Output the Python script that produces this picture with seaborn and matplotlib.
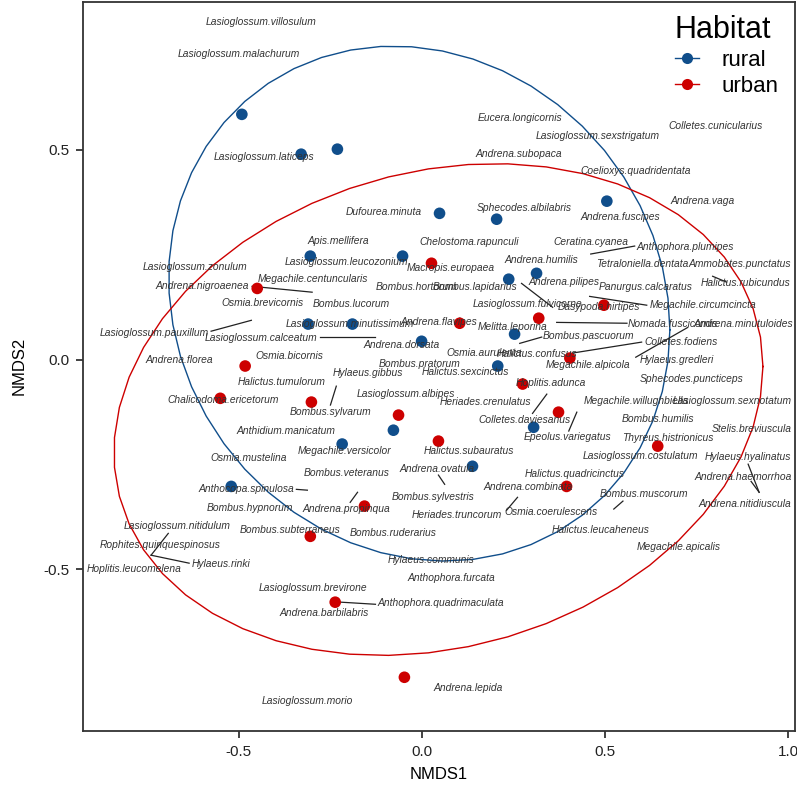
import matplotlib
matplotlib.use("Agg")
import matplotlib.pyplot as plt
from matplotlib.lines import Line2D
import numpy as np
import pandas as pd
import seaborn as sns

# サイトのNMDSスコア
rural_x = [-0.492, -0.330, -0.231, 0.048, 0.204, 0.505, -0.305, -0.053, 0.313, 0.237,
           -0.311, -0.190, -0.001, 0.253, 0.207, 0.305, -0.078, -0.218, 0.138, -0.521]
rural_y = [0.585, 0.490, 0.502, 0.349, 0.335, 0.378, 0.247, 0.247, 0.206, 0.192,
           0.085, 0.085, 0.044, 0.061, -0.015, -0.161, -0.168, -0.201, -0.254, -0.302]
urban_x = [0.026, -0.450, 0.103, 0.319, 0.497, 0.404, -0.483, -0.551, -0.302, -0.064,
           0.045, 0.275, 0.373, 0.644, 0.395, -0.157, -0.305, -0.237, -0.048]
urban_y = [0.230, 0.170, 0.087, 0.099, 0.130, 0.004, -0.015, -0.092, -0.101, -0.132,
           -0.194, -0.058, -0.125, -0.206, -0.302, -0.349, -0.421, -0.578, -0.757]

# 種ラベル（ラベル位置）
species = [
    "Lasioglossum.villosulum", "Lasioglossum.malachurum", "Lasioglossum.laticeps",
    "Eucera.longicornis", "Lasioglossum.sexstrigatum", "Andrena.subopaca",
    "Colletes.cunicularius", "Coelioxys.quadridentata", "Andrena.vaga",
    "Dufourea.minuta", "Sphecodes.albilabris", "Andrena.fuscipes",
    "Apis.mellifera", "Chelostoma.rapunculi", "Ceratina.cyanea",
    "Anthophora.plumipes", "Lasioglossum.zonulum", "Lasioglossum.leucozonium",
    "Macropis.europaea", "Andrena.humilis", "Tetraloniella.dentata",
    "Ammobates.punctatus", "Andrena.nigroaenea", "Megachile.centuncularis",
    "Bombus.hortorum", "Bombus.lapidarius", "Andrena.pilipes",
    "Panurgus.calcaratus", "Halictus.rubicundus", "Osmia.brevicornis",
    "Bombus.lucorum", "Lasioglossum.fulvicorne", "Dasypoda.hirtipes",
    "Megachile.circumcincta", "Lasioglossum.pauxillum", "Lasioglossum.minutissimum",
    "Andrena.flavipes", "Melitta.leporina", "Nomada.fuscicornis",
    "Andrena.minutuloides", "Lasioglossum.calceatum", "Andrena.dorsata",
    "Bombus.pascuorum", "Colletes.fodiens", "Andrena.florea",
    "Osmia.bicornis", "Osmia.aurulenta", "Halictus.confusus",
    "Hylaeus.gredleri", "Bombus.pratorum", "Halictus.sexcinctus",
    "Megachile.alpicola", "Halictus.tumulorum", "Hylaeus.gibbus",
    "Hoplitis.adunca", "Sphecodes.puncticeps", "Lasioglossum.albipes",
    "Heriades.crenulatus", "Chalicodoma.ericetorum", "Bombus.sylvarum",
    "Megachile.willughbiella", "Lasioglossum.sexnotatum", "Colletes.daviesanus",
    "Bombus.humilis", "Anthidium.manicatum", "Stelis.breviuscula",
    "Epeolus.variegatus", "Thyreus.histrionicus", "Megachile.versicolor",
    "Halictus.subauratus", "Osmia.mustelina", "Lasioglossum.costulatum",
    "Hylaeus.hyalinatus", "Bombus.veteranus", "Andrena.ovatula",
    "Halictus.quadricinctus", "Andrena.haemorrhoa", "Anthocopa.spinulosa",
    "Andrena.combinata", "Bombus.muscorum", "Bombus.sylvestris",
    "Andrena.nitidiuscula", "Bombus.hypnorum", "Andrena.propinqua",
    "Osmia.coerulescens", "Heriades.truncorum", "Lasioglossum.nitidulum",
    "Bombus.subterraneus", "Bombus.ruderarius", "Halictus.leucaheneus",
    "Rophites.quinquespinosus", "Megachile.apicalis", "Hylaeus.rinki",
    "Hoplitis.leucomelena", "Hylaeus.communis", "Anthophora.furcata",
    "Lasioglossum.brevirone", "Anthophora.quadrimaculata", "Andrena.barbilabris",
    "Andrena.lepida", "Lasioglossum.morio",
]
label_x = [
    -0.439, -0.499, -0.431, 0.267, 0.480, 0.264, 0.803, 0.584, 0.767,
    -0.105, 0.280, 0.543, -0.228, 0.130, 0.461, 0.718, -0.620, -0.207,
    0.078, 0.327, 0.603, 0.869, -0.601, -0.297, -0.015, 0.144, 0.387,
    0.611, 0.885, -0.436, -0.193, 0.289, 0.483, 0.767, -0.732, -0.196,
    0.045, 0.248, 0.685, 0.877, -0.439, -0.056, 0.456, 0.707, -0.663,
    -0.363, 0.171, 0.313, 0.696, -0.007, 0.119, 0.453, -0.382, -0.149,
    0.352, 0.737, -0.045, 0.174, -0.543, -0.250, 0.584, 0.847, 0.280,
    0.644, -0.371, 0.902, 0.398, 0.672, -0.212, 0.127, -0.472, 0.598,
    0.891, -0.207, 0.040, 0.417, 0.877, -0.480, 0.289, 0.606, 0.029,
    0.882, -0.469, -0.207, 0.352, 0.094, -0.669, -0.360, -0.078, 0.488,
    -0.715, 0.702, -0.549, -0.787, 0.026, 0.081, -0.297, 0.051, -0.267,
    0.127, -0.313,
]
label_y = [
    0.805, 0.728, 0.483, 0.576, 0.533, 0.490, 0.557, 0.449, 0.378,
    0.352, 0.361, 0.340, 0.283, 0.280, 0.280, 0.268, 0.221, 0.232,
    0.218, 0.237, 0.228, 0.228, 0.175, 0.192, 0.173, 0.173, 0.185,
    0.173, 0.182, 0.135, 0.132, 0.132, 0.125, 0.130, 0.063, 0.085,
    0.089, 0.077, 0.085, 0.085, 0.051, 0.035, 0.056, 0.042, -0.001,
    0.008, 0.015, 0.013, -0.001, -0.011, -0.030, -0.013, -0.054, -0.032,
    -0.056, -0.046, -0.082, -0.101, -0.097, -0.125, -0.099, -0.099, -0.144,
    -0.142, -0.170, -0.166, -0.185, -0.187, -0.218, -0.218, -0.235, -0.230,
    -0.232, -0.271, -0.261, -0.273, -0.280, -0.309, -0.304, -0.321, -0.328,
    -0.344, -0.354, -0.356, -0.364, -0.371, -0.397, -0.406, -0.414, -0.406,
    -0.442, -0.447, -0.488, -0.499, -0.478, -0.521, -0.545, -0.580, -0.604,
    -0.783, -0.814,
]

# 引き出し線（種スコア → ラベル側）
seg_x0 = [-0.464, -0.466, -0.127, 0.461, 0.794, 0.272, 0.458, 0.368, 0.584, 0.267, 0.412, -0.234,
          0.341, 0.423, -0.313, 0.045, -0.176, 0.261, 0.549, 0.921, 0.921, -0.740, -0.740, -0.221]
seg_y0 = [0.175, 0.094, 0.054, 0.252, 0.199, 0.182, 0.151, 0.089, 0.006, 0.039, 0.016, -0.063,
          -0.082, -0.125, -0.311, -0.275, -0.316, -0.328, -0.337, -0.316, -0.316, -0.466, -0.466, -0.578]
seg_x1 = [-0.300, -0.576, -0.278, 0.581, 0.832, 0.357, 0.614, 0.560, 0.726, 0.327, 0.600, -0.250,
          0.302, 0.401, -0.343, 0.062, -0.196, 0.231, 0.524, 0.891, 0.899, -0.693, -0.636, -0.127]
seg_y1 = [0.161, 0.068, 0.054, 0.271, 0.185, 0.125, 0.130, 0.087, 0.077, 0.054, 0.042, -0.108,
          -0.128, -0.170, -0.309, -0.297, -0.340, -0.359, -0.356, -0.249, -0.290, -0.414, -0.485, -0.583]

habitats = ["rural", "urban"]
colors = {"rural": "#104E8B", "urban": "#CD0000"}


def cov_trob(x, nu=5, maxit=25, tol=0.01):
    # MASS::cov.trob と同じ手順
    n, p = x.shape
    wt = np.ones(n)
    loc = x.mean(axis=0)
    w = np.sqrt(wt)
    for _ in range(maxit):
        w0 = w
        X = x - loc
        sw = np.sqrt(w / w.sum())
        _, d, vt = np.linalg.svd(sw[:, None] * X, full_matrices=False)
        wX = X @ vt.T @ np.diag(1 / d)
        Q = (wX ** 2).sum(axis=1)
        w = (wt * (nu + p)) / (nu + Q)
        loc = (w[:, None] * x).sum(axis=0) / w.sum()
        if np.all(np.abs(w - w0) < tol):
            break
    sX = np.sqrt(w)[:, None] * X
    return loc, sX.T @ sX / wt.sum()


def stat_ellipse(x, y, level=0.95, segments=51):
    pts = np.column_stack([x, y])
    center, shape = cov_trob(pts)
    dfd = len(pts) - 1
    q = dfd / 2 * ((1 - level) ** (-2 / dfd) - 1)   # qf(level, 2, dfd)
    radius = np.sqrt(2 * q)
    ang = np.arange(segments + 1) * 2 * np.pi / segments
    circle = np.column_stack([np.cos(ang), np.sin(ang)])
    L = np.linalg.cholesky(shape)
    return center + radius * circle @ L.T


sites = pd.DataFrame({
    "NMDS1": rural_x + urban_x,
    "NMDS2": rural_y + urban_y,
    "Habitat": ["rural"] * len(rural_x) + ["urban"] * len(urban_x),
})

plt.rcParams["font.family"] = ["Liberation Sans", "DejaVu Sans"]
plt.rcParams["axes.unicode_minus"] = False

fig = plt.figure(figsize=(7.97, 7.91), dpi=100)
ax = fig.add_axes([0.1041, 0.0759, 0.8934, 0.9222])

# 楕円
for h, (xs, ys) in zip(habitats, [(rural_x, rural_y), (urban_x, urban_y)]):
    e = stat_ellipse(np.array(xs), np.array(ys))
    ax.plot(e[:, 0], e[:, 1], color=colors[h], lw=1.0, zorder=2)

# 引き出し線
for x0, y0, x1, y1 in zip(seg_x0, seg_y0, seg_x1, seg_y1):
    ax.plot([x0, x1], [y0, y1], color="#222222", lw=0.9, zorder=3)

sns.scatterplot(data=sites, x="NMDS1", y="NMDS2", hue="Habitat", palette=colors,
                s=70, edgecolor="none", legend=False, ax=ax, zorder=4)

for name, lx, ly in zip(species, label_x, label_y):
    ax.text(lx, ly, name, ha="center", va="center", fontsize=7.4, style="italic",
            color="#333333", zorder=5)

ax.set_xlim(-0.926, 1.019)
ax.set_ylim(-0.885, 0.854)
ax.set_xticks([-0.5, 0.0, 0.5, 1.0])
ax.set_yticks([-0.5, 0.0, 0.5])
ax.set_xticklabels(["-0.5", "0.0", "0.5", "1.0"])
ax.set_yticklabels(["-0.5", "0.0", "0.5"])
ax.tick_params(direction="out", length=5, width=1.3, color="#333333",
               labelsize=11, labelcolor="#222222", pad=5)
for sp in ax.spines.values():
    sp.set_color("#333333")
    sp.set_linewidth(1.3)
ax.set_xlabel("NMDS1", fontsize=12, labelpad=6)
ax.set_ylabel("NMDS2", fontsize=12, labelpad=12)

handles = [Line2D([0], [0], color=colors[h], lw=1.0, marker="o", markersize=8,
                  markeredgewidth=0) for h in habitats]
leg = ax.legend(handles, habitats, title="Habitat", loc="upper right",
                bbox_to_anchor=(1.002, 1.006), frameon=False, fontsize=16,
                title_fontsize=22, handlelength=1.1, alignment="left",
                labelspacing=0.22, handletextpad=1.0, borderpad=0.3)

fig.savefig("out.png", dpi=100)
